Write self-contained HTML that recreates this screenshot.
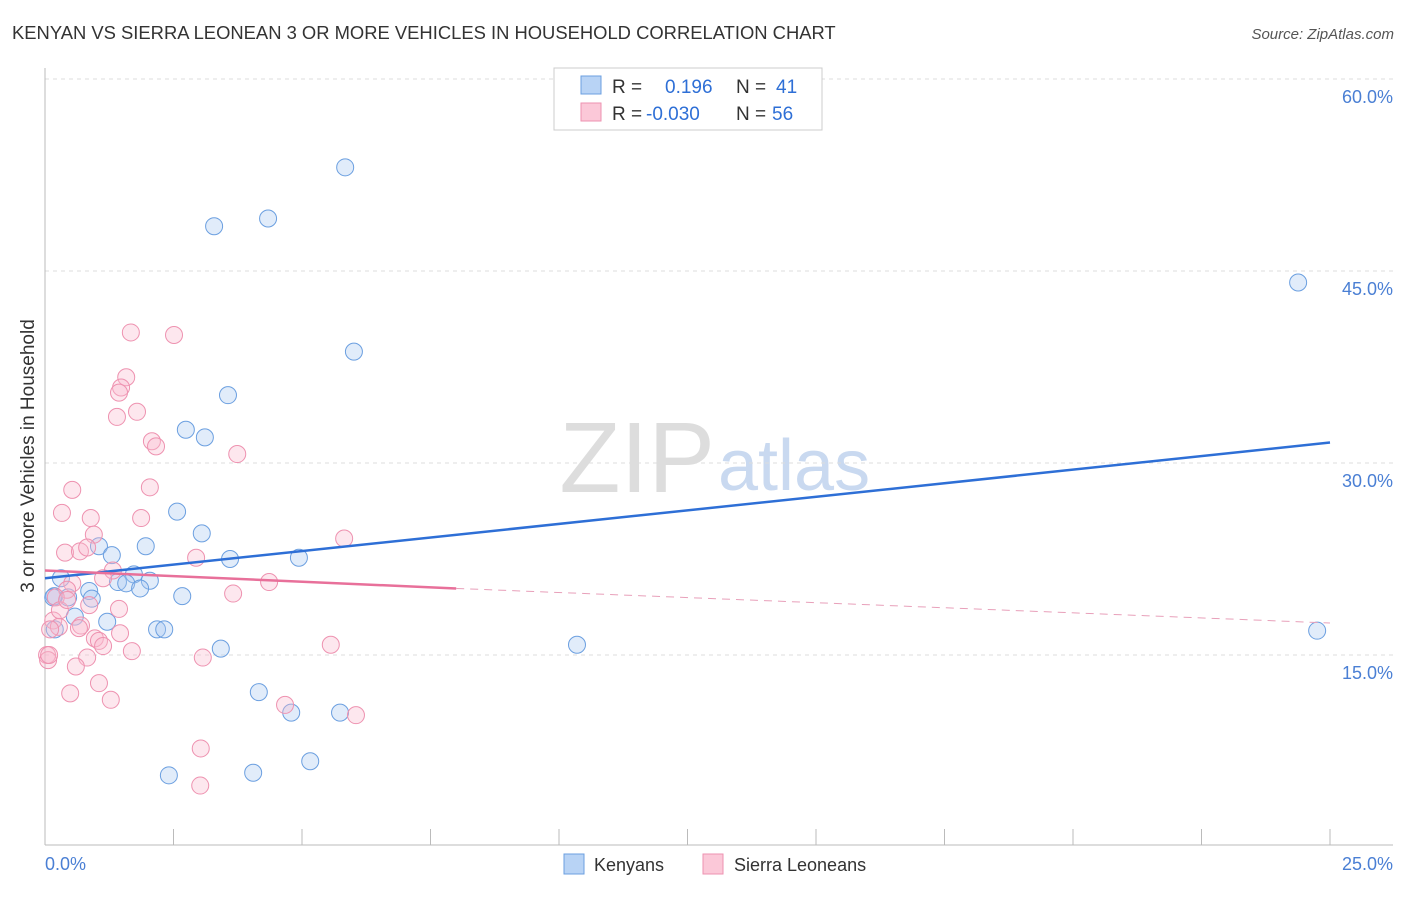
<!DOCTYPE html>
<html><head><meta charset="utf-8"><style>
body{margin:0;background:#fff;font-family:"Liberation Sans",sans-serif;}
svg text{font-family:"Liberation Sans",sans-serif;}
</style></head><body>
<svg id="chart" width="1406" height="892" xmlns="http://www.w3.org/2000/svg">
<text x="12" y="39" font-size="18.4" fill="#333">KENYAN VS SIERRA LEONEAN 3 OR MORE VEHICLES IN HOUSEHOLD CORRELATION CHART</text>
<text x="1394" y="39" font-size="15" fill="#555" font-style="italic" text-anchor="end">Source: ZipAtlas.com</text>
<text x="715" y="492" font-size="100" fill="#ddd" font-family="Liberation Serif" text-anchor="end">ZIP</text>
<text x="718" y="490" font-size="72" fill="#c9d9f0">atlas</text>
<g id="grid"></g>
<g id="axes"></g>
<g id="marks"></g>
<text transform="translate(34,456) rotate(-90)" font-size="19" fill="#333" text-anchor="middle">3 or more Vehicles in Household</text>
<text x="45" y="870" font-size="18" fill="#4a7fd4">0.0%</text>
<text x="1393" y="870" font-size="18" fill="#4a7fd4" text-anchor="end">25.0%</text>
<g>
<rect x="554" y="68" width="268" height="62" fill="#fff" stroke="#ccc"/>
<rect x="581" y="76" width="20" height="18" fill="#b8d3f5" stroke="#6b9fe0"/>
<rect x="581" y="103" width="20" height="18" fill="#fbc8d8" stroke="#ee92b0"/>
<text x="612" y="93" font-size="19" fill="#333">R = </text>
<text x="665" y="93" font-size="19" fill="#2e6fd6">0.196</text>
<text x="736" y="93" font-size="19" fill="#333">N = </text>
<text x="776" y="93" font-size="19" fill="#2e6fd6">41</text>
<text x="612" y="120" font-size="19" fill="#333">R = </text>
<text x="646" y="120" font-size="19" fill="#2e6fd6">-0.030</text>
<text x="736" y="120" font-size="19" fill="#333">N = </text>
<text x="772" y="120" font-size="19" fill="#2e6fd6">56</text>
</g>
<g>
<rect x="564" y="854" width="20" height="20" fill="#b8d3f5" stroke="#6b9fe0"/>
<text x="594" y="871" font-size="18" fill="#333">Kenyans</text>
<rect x="703" y="854" width="20" height="20" fill="#fbc8d8" stroke="#ee92b0"/>
<text x="734" y="871" font-size="18" fill="#333">Sierra Leoneans</text>
</g>
</svg>
<script>
const yTicks=[15,30,45,60];
const yTickLabels=["15.0%","30.0%","45.0%","60.0%"];
const xTicks=[0,2.5,5,7.5,10,12.5,15,17.5,20,22.5,25];
const blueX=[5.84,4.34,3.29,24.38,6.01,3.56,2.74,3.11,2.57,3.05,1.05,1.96,1.30,3.60,4.94,1.73,0.31,2.04,1.42,1.58,1.85,0.86,0.18,0.45,0.91,2.67,0.58,1.21,2.18,2.32,3.42,10.35,24.75,0.19,4.16,4.79,5.74,2.41,4.05,5.16,0.16];
const blueY=[53.1,49.1,48.5,44.1,38.7,35.3,32.6,32.0,26.2,24.5,23.5,23.5,22.8,22.5,22.6,21.3,21.0,20.8,20.7,20.6,20.2,20.0,19.6,19.5,19.4,19.6,18.0,17.6,17.0,17.0,15.5,15.8,16.9,17.0,12.1,10.5,10.5,5.6,5.8,6.7,19.5];
const pinkX=[1.67,2.51,1.58,1.48,1.44,1.79,1.40,2.08,2.16,3.74,0.53,2.04,0.33,0.89,1.87,5.82,0.95,0.39,0.68,0.82,2.94,1.32,1.13,4.36,0.53,0.43,3.66,0.86,1.44,0.16,0.70,0.66,0.27,0.97,1.05,1.13,1.69,5.56,0.04,0.06,0.82,3.07,0.60,1.05,0.49,1.28,4.67,6.05,3.03,3.02,0.21,0.29,0.43,1.46,0.10,0.08];
const pinkY=[40.2,40.0,36.7,35.9,35.5,34.0,33.6,31.7,31.3,30.7,27.9,28.1,26.1,25.7,25.7,24.1,24.4,23.0,23.1,23.4,22.6,21.6,21.0,20.7,20.6,20.1,19.8,18.9,18.6,17.7,17.3,17.1,17.2,16.3,16.1,15.7,15.3,15.8,15.0,14.6,14.8,14.8,14.1,12.8,12.0,11.5,11.1,10.3,7.7,4.8,19.5,18.5,19.3,16.7,17.0,15.0];
const blueTrend=[[0,21.0],[25,31.6]];
const pinkTrendSolid=[[0,21.6],[8.0,20.2]];
const pinkTrendDash=[[8.0,20.2],[25,17.5]];
const X=v=>45+v/25*1285;
const Y=v=>847-v/15*192;
const NS="http://www.w3.org/2000/svg";
function mk(parent,tag,attrs){const e=document.createElementNS(NS,tag);for(const k in attrs)e.setAttribute(k,attrs[k]);document.getElementById(parent).appendChild(e);return e;}
yTicks.forEach((t,i)=>{
 const l=mk('grid','line',{x1:45,x2:1393,y1:Y(t),y2:Y(t),stroke:'#ddd','stroke-dasharray':'4,4'});
 
 
 const tx=mk('grid','text',{x:1393,y:Y(t)+24,'font-size':18,fill:'#4a7fd4','text-anchor':'end'});
 tx.textContent=yTickLabels[i];
 
 
});
const ya=mk('axes','line',{x1:45,x2:45,y1:68,y2:845,stroke:'#bbb'});


const xa=mk('axes','line',{x1:45,x2:1393,y1:845,y2:845,stroke:'#bbb'});


xTicks.forEach(t=>{
 const l=mk('axes','line',{x1:X(t),x2:X(t),y1:829,y2:845,stroke:'#bbb'});
 
 
});
function dots(xs,ys,fill,stroke,name){xs.forEach((x,i)=>{
 const c=mk('marks','circle',{cx:X(x),cy:Y(ys[i]),r:8.5,fill:fill,'fill-opacity':0.35,stroke:stroke,'stroke-width':1});
 
 
});}
dots(blueX,blueY,'#a9c8f2','#6b9fe0','kenyan-point');
dots(pinkX,pinkY,'#f8b9cf','#ee92b0','sierra-leonean-point');
function line(p,color,dash,name){
 const l=mk('marks','line',{x1:X(p[0][0]),y1:Y(p[0][1]),x2:X(p[1][0]),y2:Y(p[1][1]),stroke:color,'stroke-width':dash?1:2.5});
 if(dash)l.setAttribute('stroke-dasharray','8,6');
 
 
}
line(blueTrend,'#2e6fd6',false,'kenyan-trend-line');
line(pinkTrendSolid,'#e8709a',false,'sierra-trend-line');
line(pinkTrendDash,'#e8a0ba',true,'sierra-trend-extension');
</script>
</body></html>
